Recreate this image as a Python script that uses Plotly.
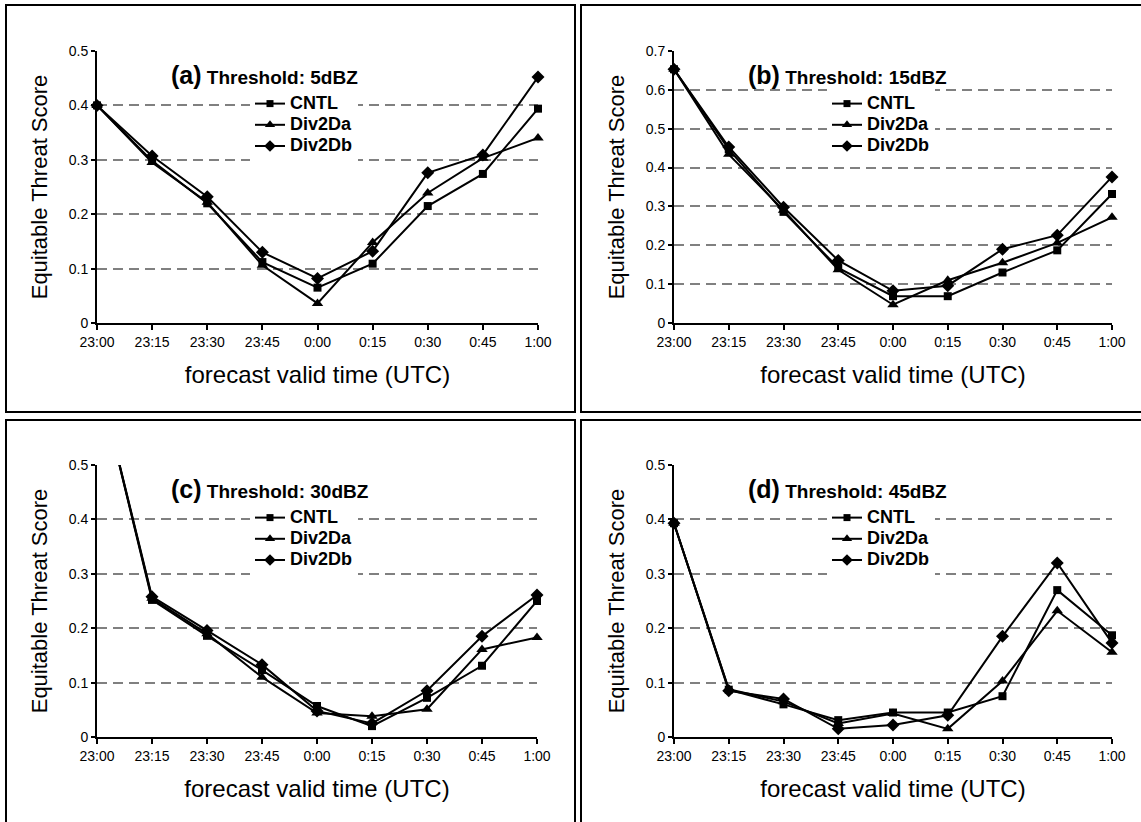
import plotly.graph_objects as go

W, H = 1141, 822

times = ["23:00", "23:15", "23:30", "23:45", "0:00", "0:15", "0:30", "0:45", "1:00"]
series_names = ["CNTL", "Div2Da", "Div2Db"]

a_cntl   = [0.400, 0.298, 0.220, 0.112, 0.065, 0.109, 0.215, 0.274, 0.394]
a_div2da = [0.400, 0.295, 0.222, 0.106, 0.036, 0.148, 0.239, 0.303, 0.340]
a_div2db = [0.400, 0.307, 0.232, 0.130, 0.082, 0.132, 0.276, 0.309, 0.452]

b_cntl   = [0.653, 0.447, 0.286, 0.142, 0.069, 0.069, 0.130, 0.187, 0.332]
b_div2da = [0.653, 0.434, 0.290, 0.137, 0.047, 0.110, 0.155, 0.206, 0.272]
b_div2db = [0.653, 0.453, 0.298, 0.161, 0.083, 0.096, 0.190, 0.226, 0.376]

c_cntl   = [0.670, 0.252, 0.186, 0.123, 0.057, 0.020, 0.072, 0.131, 0.250]
c_div2da = [0.670, 0.255, 0.190, 0.110, 0.044, 0.038, 0.051, 0.161, 0.183]
c_div2db = [0.670, 0.258, 0.196, 0.133, 0.048, 0.025, 0.085, 0.185, 0.261]

d_cntl   = [0.393, 0.087, 0.060, 0.031, 0.045, 0.045, 0.075, 0.270, 0.187]
d_div2da = [0.393, 0.088, 0.065, 0.025, 0.043, 0.015, 0.103, 0.232, 0.156]
d_div2db = [0.393, 0.085, 0.070, 0.015, 0.022, 0.040, 0.185, 0.320, 0.173]

yticks_05 = [0, 0.1, 0.2, 0.3, 0.4, 0.5]
yticks_07 = [0, 0.1, 0.2, 0.3, 0.4, 0.5, 0.6, 0.7]
yticklabels_05 = ["0", "0.1", "0.2", "0.3", "0.4", "0.5"]
yticklabels_07 = ["0", "0.1", "0.2", "0.3", "0.4", "0.5", "0.6", "0.7"]

panel_labels = ["(a)", "(b)", "(c)", "(d)"]
thresholds = ["5dBZ", "15dBZ", "30dBZ", "45dBZ"]
panel_data = [
    [a_cntl, a_div2da, a_div2db],
    [b_cntl, b_div2da, b_div2db],
    [c_cntl, c_div2da, c_div2db],
    [d_cntl, d_div2da, d_div2db],
]
panel_ymax = [0.5, 0.7, 0.5, 0.5]
panel_yticks = [yticks_05, yticks_07, yticks_05, yticks_05]
panel_yticklabels = [yticklabels_05, yticklabels_07, yticklabels_05, yticklabels_05]

# layout geometry (pixels)
xdoms_px = [(97, 538), (674, 1112), (97, 537), (674, 1112)]
ydoms_px = [(51, 323), (51, 323), (465, 737), (465, 737)]
boxes_px = [(6, 5, 575, 412), (581, 5, 1146, 412), (6, 420, 575, 830), (581, 420, 1146, 830)]

symbols = ["square", "triangle-up", "diamond"]
msizes = [8, 10, 10]

FONT = "Liberation Sans, Arial, sans-serif"

fig = go.Figure()
xidx = list(range(len(times)))

for p in range(4):
    sfx = "" if p == 0 else str(p + 1)
    legname = "legend" if p == 0 else "legend" + str(p + 1)
    ymax = panel_ymax[p]
    for s in range(3):
        vals = panel_data[p][s]
        op = [1 if v <= ymax else 0 for v in vals]
        fig.add_trace(go.Scatter(
            x=xidx, y=vals, mode="lines+markers",
            xaxis="x" + sfx, yaxis="y" + sfx,
            line=dict(color="black", width=2),
            marker=dict(symbol=symbols[s], size=msizes[s], color="black", opacity=op),
            cliponaxis=False, showlegend=False, name=series_names[s],
        ))
        # legend entry
        fig.add_trace(go.Scatter(
            x=[None], y=[None], mode="lines+markers",
            xaxis="x" + sfx, yaxis="y" + sfx,
            line=dict(color="black", width=2),
            marker=dict(symbol=symbols[s], size=msizes[s] - 1, color="black"),
            name="<span style='font-size:18px'><b>" + series_names[s] + "</b></span>",
            legend=legname, showlegend=True,
        ))

layout = dict(
    width=W, height=H,
    margin=dict(l=0, r=0, t=0, b=0),
    paper_bgcolor="white", plot_bgcolor="white",
    font=dict(family=FONT, color="black"),
    shapes=[], annotations=[],
)

for p in range(4):
    sfx = "" if p == 0 else str(p + 1)
    x0, x1 = xdoms_px[p]
    yt, yb = ydoms_px[p]
    layout["xaxis" + sfx] = dict(
        domain=[x0 / W, x1 / W], anchor="y" + sfx,
        range=[0, len(times) - 1], tickmode="array", tickvals=xidx, ticktext=times,
        showline=True, linecolor="black", linewidth=2,
        ticks="outside", ticklen=5, tickwidth=2, tickcolor="black",
        showgrid=False, zeroline=False,
        tickfont=dict(size=14, family=FONT),
        title=dict(text="forecast valid time (UTC)", font=dict(size=24, family=FONT), standoff=17),
        automargin=False, fixedrange=True,
    )
    layout["yaxis" + sfx] = dict(
        domain=[1 - yb / H, 1 - yt / H], anchor="x" + sfx,
        range=[0, panel_ymax[p]], tickmode="array",
        tickvals=panel_yticks[p], ticktext=panel_yticklabels[p],
        showline=True, linecolor="black", linewidth=2,
        ticks="outside", ticklen=4, tickwidth=2, tickcolor="black",
        showgrid=True, gridcolor="#808080", gridwidth=1.5, griddash="10px,6px",
        zeroline=False,
        tickfont=dict(size=14, family=FONT),
        title=dict(text="Equitable Threat Score", font=dict(size=22, family=FONT), standoff=15),
        automargin=False, fixedrange=True,
    )
    legname = "legend" if p == 0 else "legend" + str(p + 1)
    layout[legname] = dict(
        x=(x0 + 153) / W, y=1 - (yt + 37) / H, xanchor="left", yanchor="top",
        xref="paper", yref="paper",
        bgcolor="white", borderwidth=0,
        font=dict(size=14, family=FONT),
        tracegroupgap=0, itemwidth=30,
    )
    layout["annotations"].append(dict(
        xref="paper", yref="paper", x=(x0 + 72) / W, y=1 - (yt + 24) / H,
        xanchor="left", yanchor="middle", showarrow=False,
        text="<b><span style='font-size:25px'>" + panel_labels[p] + "</span> Threshold: " + thresholds[p] + "</b>",
        font=dict(size=19, family=FONT, color="black"),
    ))
    bx0, by0, bx1, by1 = boxes_px[p]
    layout["shapes"].append(dict(
        type="rect", xref="paper", yref="paper",
        x0=bx0 / W, x1=bx1 / W, y0=1 - by1 / H, y1=1 - by0 / H,
        line=dict(color="black", width=2), fillcolor="rgba(0,0,0,0)", layer="above",
    ))

fig.update_layout(**layout)
fig.write_html(
    "out.html",
    config={"displayModeBar": False},
    post_script="document.body.style.margin='0px';document.body.style.overflow='hidden';",
)
